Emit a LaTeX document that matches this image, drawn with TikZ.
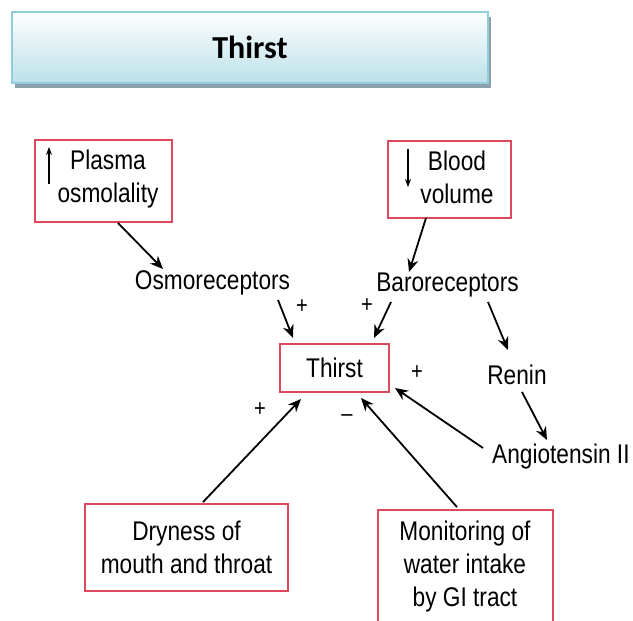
\documentclass[tikz,border=0pt]{standalone}
\usepackage{fontspec}
\setmainfont[FakeStretch=0.84]{Liberation Sans}
\newfontfamily\titlefont{Carlito}
\usetikzlibrary{calc,arrows.meta,shadows}
\definecolor{boxred}{RGB}{222,72,92}
\definecolor{titleedge}{RGB}{146,205,220}
\definecolor{titlefill}{RGB}{187,224,233}
\definecolor{titleshadow}{RGB}{138,160,170}
\begin{document}
\begin{tikzpicture}[x=1pt,y=-1pt,
  redbox/.style={draw=boxred, line width=1.8pt, inner sep=0pt},
  lbl/.style={font=\fontsize{27}{33}\selectfont, align=center, inner sep=0pt},
  sign/.style={font=\fontsize{24}{24}\selectfont, inner sep=0pt},
  arr/.style={line width=1.8pt, -{Stealth[length=13pt,width=11pt]}},
  smallarr/.style={line width=1.3pt, -{Stealth[length=8pt,width=6pt]}},
  titlebox/.style={draw=titleedge, line width=1.5pt, top color=white, bottom color=titlefill,
    minimum width=476pt, minimum height=71pt, inner sep=0pt,
    drop shadow={shadow xshift=3pt, shadow yshift=-5pt, fill=titleshadow, opacity=1},
    font=\titlefont\bfseries\fontsize{32}{32}\selectfont}
]
\clip (0,0) rectangle (633,621);
\useasboundingbox (0,0) rectangle (633,621);

% title
\node[titlebox] (title) at (250,47.5) {Thirst};

% boxes
\node[redbox, minimum width=137pt, minimum height=82pt] (plasma) at (103.5,181) {};
\node[lbl] (plasmatxt) at (108,179) {Plasma\\osmolality};
\draw[smallarr] ($(plasma)+(-54.5,3)$) -- ($(plasma)+(-54.5,-34)$);

\node[redbox, minimum width=123pt, minimum height=77pt] (blood) at (449.5,179.5) {};
\node[lbl] (bloodtxt) at (457,177) {Blood\\volume};
\draw[smallarr] ($(blood)+(-41.5,-30.5)$) -- ($(blood)+(-41.5,7.5)$);

\node[redbox, lbl, minimum width=109pt, minimum height=48pt] (thirst) at (334.5,368) {Thirst};
\node[redbox, lbl, minimum width=203pt, minimum height=87pt] (dry) at (186.5,547.5) {Dryness of\\mouth and throat};
\node[redbox, minimum width=175pt, minimum height=130pt] (monitor) at (465.5,575) {};
\node[lbl] (montxt) at (465,567) {Monitoring of\\water intake\\by GI tract};

% plain labels
\node[lbl] (osmo) at (212.5,283) {Osmoreceptors};
\node[lbl] (baro) at (447.5,285) {Baroreceptors};
\node[lbl] (renin) at (517,375) {Renin};
\node[lbl, anchor=west] (angio) at (492,457) {Angiotensin II};

% signs
\node[sign] (s1) at (302,307) {+};
\node[sign] (s2) at (367,306) {+};
\node[sign] (s3) at (417,373) {+};
\node[sign] (s4) at (260,410) {+};
\node[sign] (s5) at (347,418) {–};

% connectors
\draw[arr] ($(plasma)+(14.5,42)$) -- ($(osmo)+(-49.5,-14)$);
\draw[arr] ($(osmo)+(65.5,17)$) -- ($(thirst)+(-41.5,-30)$);
\draw[arr] ($(blood)+(-23.5,38.5)$) -- ($(baro)+(-38.5,-13)$);
\draw[arr] ($(baro)+(-56.5,17)$) -- ($(thirst)+(39.5,-30)$);
\draw[arr] ($(baro)+(40.5,17)$) -- ($(renin)+(-9,-25)$);
\draw[arr] ($(renin)+(5,17)$) -- ($(angio.west)+(55,-17)$);
\draw[arr] ($(angio.west)+(-9,-9)$) -- ($(thirst)+(60.5,20)$);
\draw[arr] ($(monitor.north)+(-8.5,-2)$) -- ($(thirst)+(26.5,30)$);
\draw[arr] ($(dry.north)+(16.5,-1)$) -- ($(thirst)+(-33.5,31)$);
\end{tikzpicture}
\end{document}
